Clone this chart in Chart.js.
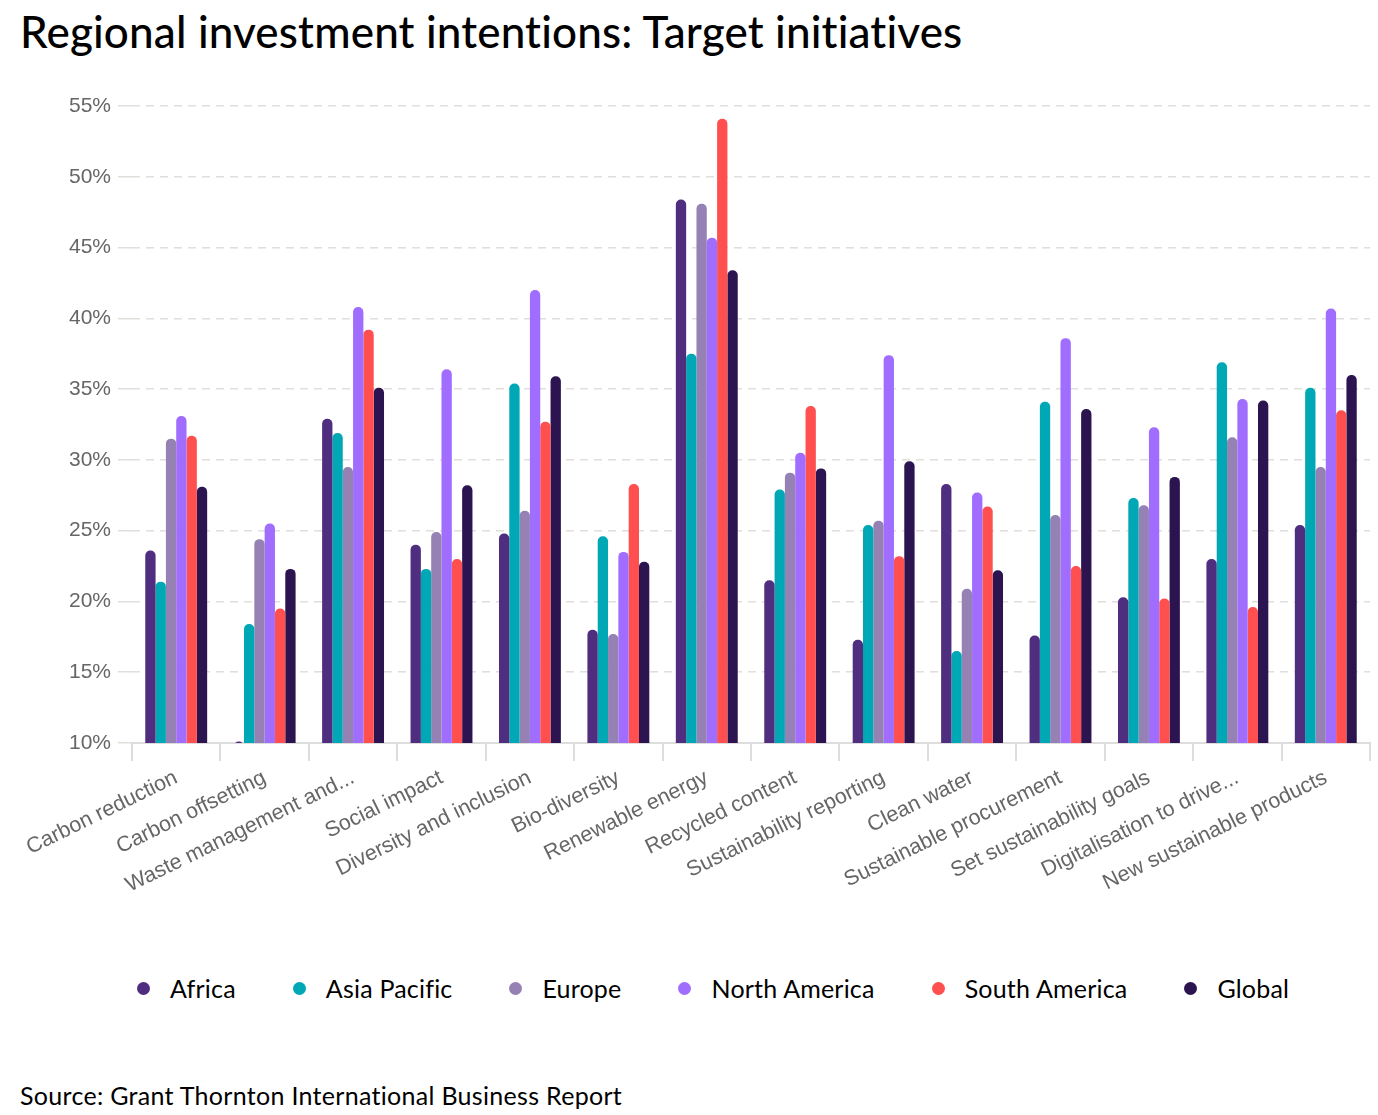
<!DOCTYPE html>
<html>
<head>
<meta charset="utf-8">
<script src="https://cdn.jsdelivr.net/npm/chart.js@4.4.1/dist/chart.umd.min.js"></script>
<style>
  body { margin: 0; background: #fff; width: 1378px; height: 1115px; position: relative; overflow: hidden; font-family: Lato, "Noto Sans", sans-serif; }
  h1 { position: absolute; left: 20px; top: 5px; margin: 0; font-size: 44px; letter-spacing: 0.15px; font-weight: 500; color: #000; white-space: nowrap; }
  #wrap { position: absolute; left: 0; top: 70px; width: 1378px; height: 833px; }
  #legend { position: absolute; left: 137px; top: 973px; display: flex; align-items: center; font-size: 25px; letter-spacing: 0.2px; color: #000; }
  #legend .item { display: flex; align-items: center; margin-right: 57px; }
  #legend .dot { width: 13px; height: 13px; border-radius: 50%; margin-right: 20px; }
  .source { position: absolute; left: 20px; top: 1080px; margin: 0; font-size: 25px; letter-spacing: 0.3px; color: #000; }
</style>
</head>
<body>
<h1>Regional investment intentions: Target initiatives</h1>
<div id="wrap"><canvas id="chart"></canvas></div>
<div id="legend"></div>
<p class="source">Source: Grant Thornton International Business Report</p>
<script>
const categories = ["Carbon reduction", "Carbon offsetting", "Waste management and...", "Social impact",
  "Diversity and inclusion", "Bio-diversity", "Renewable energy", "Recycled content",
  "Sustainability reporting", "Clean water", "Sustainable procurement", "Set sustainability goals",
  "Digitalisation to drive...", "New sustainable products"];

const africa       = [23.6, 10.1, 32.9, 24.0, 24.8, 18.0, 48.4, 21.5, 17.3, 28.3, 17.6, 20.3, 23.0, 25.4];
const asiaPacific  = [21.4, 18.4, 31.9, 22.3, 35.4, 24.6, 37.5, 27.9, 25.4, 16.5, 34.1, 27.3, 36.9, 35.1];
const europe       = [31.5, 24.4, 29.5, 24.9, 26.4, 17.7, 48.1, 29.1, 25.7, 20.9, 26.1, 26.8, 31.6, 29.5];
const northAmerica = [33.1, 25.5, 40.8, 36.4, 42.0, 23.5, 45.7, 30.5, 37.4, 27.7, 38.6, 32.3, 34.3, 40.7];
const southAmerica = [31.7, 19.5, 39.2, 23.0, 32.7, 28.3, 54.1, 33.8, 23.2, 26.7, 22.5, 20.2, 19.6, 33.5];
const global       = [28.1, 22.3, 35.1, 28.2, 35.9, 22.8, 43.4, 29.4, 29.9, 22.2, 33.6, 28.8, 34.2, 36.0];

const yTicks = [10, 15, 20, 25, 30, 35, 40, 45, 50, 55];

const seriesNames = ["Africa", "Asia Pacific", "Europe", "North America", "South America", "Global"];
const seriesColors = ["#4f2d7f", "#00a7b5", "#9581b3", "#a06dff", "#ff4f4f", "#2c1450"];
const seriesData = [africa, asiaPacific, europe, northAmerica, southAmerica, global];

const tickFont = { family: '"Liberation Sans", Arial, sans-serif', size: 21 };

const chart = new Chart(document.getElementById("chart"), {
  type: "bar",
  data: {
    labels: categories,
    datasets: seriesNames.map((name, i) => ({
      label: name,
      data: seriesData[i],
      backgroundColor: seriesColors[i],
      borderRadius: 5,
      categoryPercentage: 0.7,
      barPercentage: 1.0
    }))
  },
  options: {
    responsive: true,
    maintainAspectRatio: false,
    animation: false,
    layout: { padding: { left: 0, right: 8, top: 36, bottom: 0 } },
    scales: {
      x: {
        offset: true,
        grid: { offset: true, drawOnChartArea: false, tickLength: 18, color: "#dddddd", lineWidth: 2 },
        border: { display: true, color: "#dddddd", width: 2 },
        ticks: { color: "#666", font: { family: tickFont.family, size: 21.5 }, minRotation: 26, maxRotation: 26, padding: 4, autoSkip: false },
        afterFit: function (s) { s.height = 160; }
      },
      y: {
        min: 10,
        max: 55,
        afterBuildTicks: function (s) { s.ticks = yTicks.map(v => ({ value: v })); },
        ticks: {
          color: "#666",
          font: tickFont,
          padding: 7,
          callback: function (value) { return value + "%"; }
        },
        grid: { color: "#e2ded9", lineWidth: 1.5, tickLength: 14, tickBorderDash: [] },
        border: { display: false, dash: [8, 6] },
        afterFit: function (s) { s.width = 132; }
      }
    },
    plugins: {
      legend: { display: false },
      tooltip: { enabled: false }
    }
  }
});

// legend built from the chart's datasets
const legendEl = document.getElementById("legend");
chart.data.datasets.forEach(ds => {
  const item = document.createElement("div");
  item.className = "item";
  const dot = document.createElement("span");
  dot.className = "dot";
  dot.style.background = ds.backgroundColor;
  const txt = document.createElement("span");
  txt.textContent = ds.label;
  item.appendChild(dot);
  item.appendChild(txt);
  legendEl.appendChild(item);
});
</script>
</body>
</html>
